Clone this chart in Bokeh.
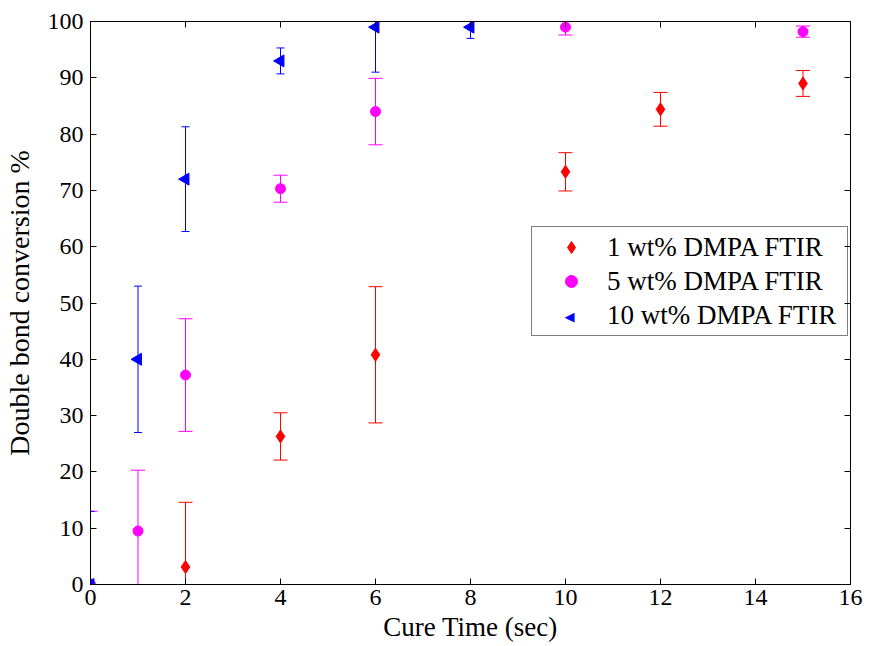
import numpy as np
from bokeh.plotting import figure
from bokeh.models import LinearAxis, FixedTicker, Range1d, Legend, LegendItem, Label
from bokeh.embed import file_html
from bokeh.resources import INLINE

# ---- data ----
time_1 = [0, 2, 4, 6, 10, 12, 15]
conv_1 = [0, 3.1, 26.3, 40.8, 73.3, 84.4, 89.0]
err_1 = [0, 11.5, 4.2, 12.1, 3.4, 3.0, 2.3]

time_5 = [0, 1, 2, 4, 6, 10, 15]
conv_5 = [0, 9.5, 37.2, 70.3, 84.0, 99.0, 98.2]
err_5 = [13.0, 10.8, 10.0, 2.4, 5.9, 1.4, 1.0]

time_10 = [0, 1, 2, 4, 6, 8]
conv_10 = [0, 40.0, 72.0, 93.0, 99.0, 99.0]
err_10 = [13.0, 13.0, 9.3, 2.3, 8.0, 2.0]

x_ticks = [0, 2, 4, 6, 8, 10, 12, 14, 16]
y_ticks = [0, 10, 20, 30, 40, 50, 60, 70, 80, 90, 100]
labels = ["1 wt% DMPA FTIR", "5 wt% DMPA FTIR", "10 wt% DMPA FTIR"]

FONT = "Liberation Serif"

p = figure(width=869, height=646, x_range=Range1d(0, 16), y_range=Range1d(0, 100),
           output_backend="svg", toolbar_location=None,
           min_border_left=90, min_border_right=19, min_border_top=21, min_border_bottom=62)
p.xgrid.visible = False
p.ygrid.visible = False
p.outline_line_color = "black"
p.outline_line_width = 1
p.background_fill_color = "white"
p.border_fill_color = "white"

for ax, ticks in ((p.xaxis[0], x_ticks), (p.yaxis[0], y_ticks)):
    ax.ticker = FixedTicker(ticks=ticks)
    ax.major_tick_in = 6
    ax.major_tick_out = 0
    ax.minor_tick_line_color = None
    ax.major_label_text_font = FONT
    ax.major_label_text_font_size = "24px"
    ax.major_label_text_color = "black"
    ax.axis_label_text_font = FONT
    ax.axis_label_text_font_style = "normal"
    ax.axis_label_text_color = "black"
    ax.axis_line_color = "black"
    ax.major_tick_line_color = "black"

p.xaxis.axis_label = "Cure Time (sec)"
p.xaxis.axis_label_text_font_size = "27px"
p.xaxis.major_label_standoff = 5
p.xaxis.axis_label_standoff = 4
p.yaxis.axis_label = "Double bond conversion %"
p.yaxis.axis_label_text_font_size = "28px"
p.yaxis.major_label_standoff = 7
p.yaxis.axis_label_standoff = 10

for loc, ticks in (("above", x_ticks), ("right", y_ticks)):
    ax = LinearAxis(ticker=FixedTicker(ticks=ticks), major_tick_in=6, major_tick_out=0,
                    minor_tick_line_color=None,
                    major_label_overrides={t: "" for t in ticks},
                    major_label_standoff=0, axis_line_color="black",
                    major_tick_line_color="black")
    p.add_layout(ax, loc)

series = [
    (time_1, conv_1, err_1, "#ff0000", "diamond", 13, 0.0, 0.1475),
    (time_5, conv_5, err_5, "#ff00ff", "circle", 10, 0.0, 0.1475),
    (time_10, conv_10, err_10, "#0000ff", "triangle", 12, np.pi / 2, 0.084),
]

renderers = []
for (t, c, e, col, mk, sz, ang, hw) in series:
    t = np.array(t, dtype=float)
    c = np.array(c, dtype=float)
    e = np.array(e, dtype=float)
    m = e > 0
    lo = c - e
    hi = c + e
    p.segment(x0=t[m], y0=lo[m], x1=t[m], y1=hi[m], line_color=col, line_width=1)
    p.segment(x0=t[m] - hw, y0=hi[m], x1=t[m] + hw, y1=hi[m], line_color=col, line_width=1)
    p.segment(x0=t[m] - hw, y0=lo[m], x1=t[m] + hw, y1=lo[m], line_color=col, line_width=1)
    r = p.scatter(x=t, y=c, marker=mk, size=sz, angle=ang, fill_color=col, line_color=col)
    renderers.append(r)

# legend: the blue entry's left-pointing marker is drawn as a label on top of an empty swatch
blank = p.scatter(x=[], y=[], marker="triangle", fill_alpha=0, line_alpha=0)
items = [LegendItem(label=labels[0], renderers=[renderers[0]]),
         LegendItem(label=labels[1], renderers=[renderers[1]]),
         LegendItem(label=labels[2], renderers=[blank])]

LEG_X, LEG_Y, PAD, GW, ROW = 441, 248, 3, 72, 34
legend = Legend(items=items, location=(LEG_X, LEG_Y), border_line_color="black",
                border_line_width=1, background_fill_alpha=0,
                label_text_font=FONT, label_text_font_size="27px", label_text_color="black",
                padding=PAD, spacing=0, margin=0, glyph_width=GW, glyph_height=30,
                label_height=ROW, label_width=237, label_standoff=0)
p.add_layout(legend, "center")

tri = Label(x=LEG_X + PAD + GW / 2 - 1, y=LEG_Y + PAD + ROW / 2, x_units="screen", y_units="screen",
            text="\u25C0", text_font="DejaVu Sans", text_font_size="13px", text_color="#0000ff",
            text_align="center", text_baseline="middle", level="overlay")
p.add_layout(tri, "center")

open("out.html", "w").write(file_html(p, INLINE))
